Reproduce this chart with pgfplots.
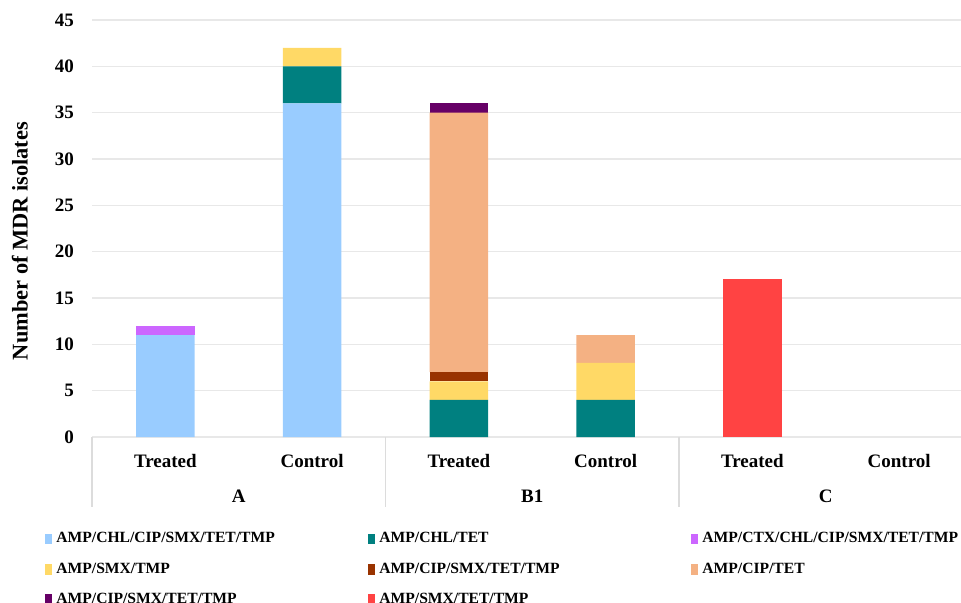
\documentclass[border=0pt]{standalone}
\usepackage{fontspec}
\setmainfont{Liberation Serif}
\usepackage{pgfplots}
\usepackage{pgfplotstable}
\pgfplotsset{compat=1.18}

\definecolor{cBlue}{HTML}{99CCFF}
\definecolor{cTeal}{HTML}{008080}
\definecolor{cCtx}{HTML}{CC66FF}
\definecolor{cYellow}{HTML}{FFD966}
\definecolor{cBrown}{HTML}{993300}
\definecolor{cSalmon}{HTML}{F4B183}
\definecolor{cDPurple}{HTML}{660066}
\definecolor{cRed}{HTML}{FF4343}
\definecolor{cGrid}{HTML}{E8E8E8}
\definecolor{cSep}{HTML}{DCDCDC}

% x: 0 A-Treated, 1 A-Control, 2 B1-Treated, 3 B1-Control, 4 C-Treated, 5 C-Control
\pgfplotstableread{
x blue teal ctx yellow brown salmon dpurple red
0 11 0 1 0 0 0  0 0
1 36 4 0 2 0 0  0 0
2 0  4 0 2 1 28 1 0
3 0  4 0 4 0 3  0 0
4 0  0 0 0 0 0  0 17
5 0  0 0 0 0 0  0 0
}\mdr

\newcommand{\legtext}[1]{\makebox[154pt][l]{#1}}

\begin{document}
\begin{tikzpicture}
\useasboundingbox (-46pt,-82.5pt) rectangle (434.5pt,218.5pt);
\begin{axis}[
    at={(0,0)}, anchor=south west,
    width=440.25pt, height=208.5pt, scale only axis,
    ybar stacked, bar width=0.40,
    xmin=-0.5, xmax=5.5, ymin=0, ymax=45,
    ytick={0,5,...,45},
    xtick={0,...,5},
    xticklabels={Treated,Control,Treated,Control,Treated,Control},
    major tick length=0pt,
    axis line style={draw=none},
    ymajorgrids, grid style={cGrid, line width=0.6pt},
    /pgf/number format/assume math mode=true,
    ticklabel style={font=\bfseries\fontsize{9.5}{11}\selectfont},
    xticklabel style={anchor=base, yshift=-15pt},
    yticklabel style={xshift=-5.5pt},
    ylabel={Number of MDR isolates},
    ylabel style={at={(axis description cs:-0.082,0.47)}, anchor=center,
        font=\bfseries\fontsize{11.2}{13}\selectfont},
    clip=false,
    legend columns=3,
    legend cell align=left,
    legend image code/.code={\fill[#1] (0pt,-2.7pt) rectangle (3.5pt,2.7pt);},
    legend style={
        at={([xshift=-23.5pt,yshift=-45.5pt]axis description cs:0,0)},
        anchor=north west, draw=none, fill=none, inner sep=0pt,
        row sep=4.5pt,
        font=\bfseries\fontsize{7.8}{9}\selectfont,
    },
]
\addplot[fill=cBlue, draw=none] table[x=x, y=blue] {\mdr};
\addlegendentry{\legtext{AMP/CHL/CIP/SMX/TET/TMP}}
\addplot[fill=cTeal, draw=none] table[x=x, y=teal] {\mdr};
\addlegendentry{\legtext{AMP/CHL/TET}}
\addplot[fill=cCtx, draw=none] table[x=x, y=ctx] {\mdr};
\addlegendentry{\legtext{AMP/CTX/CHL/CIP/SMX/TET/TMP}}
\addplot[fill=cYellow, draw=none] table[x=x, y=yellow] {\mdr};
\addlegendentry{\legtext{AMP/SMX/TMP}}
\addplot[fill=cBrown, draw=none] table[x=x, y=brown] {\mdr};
\addlegendentry{\legtext{AMP/CIP/SMX/TET/TMP}}
\addplot[fill=cSalmon, draw=none] table[x=x, y=salmon] {\mdr};
\addlegendentry{\legtext{AMP/CIP/TET}}
\addplot[fill=cDPurple, draw=none] table[x=x, y=dpurple] {\mdr};
\addlegendentry{\legtext{AMP/CIP/SMX/TET/TMP}}
\addplot[fill=cRed, draw=none] table[x=x, y=red] {\mdr};
\addlegendentry{\legtext{AMP/SMX/TET/TMP}}

\draw[cSep, line width=0.6pt] (axis cs:-0.5,0) -- ++(0pt,-35pt);
\draw[cSep, line width=0.6pt] (axis cs:1.5,0) -- ++(0pt,-35pt);
\draw[cSep, line width=0.6pt] (axis cs:3.5,0) -- ++(0pt,-35pt);
\node[anchor=base, font=\bfseries\fontsize{9.5}{11}\selectfont] at ([yshift=-32.5pt]axis cs:0.5,0) {A};
\node[anchor=base, font=\bfseries\fontsize{9.5}{11}\selectfont] at ([yshift=-32.5pt]axis cs:2.5,0) {B1};
\node[anchor=base, font=\bfseries\fontsize{9.5}{11}\selectfont] at ([yshift=-32.5pt]axis cs:4.5,0) {C};
\end{axis}
\end{tikzpicture}
\end{document}
